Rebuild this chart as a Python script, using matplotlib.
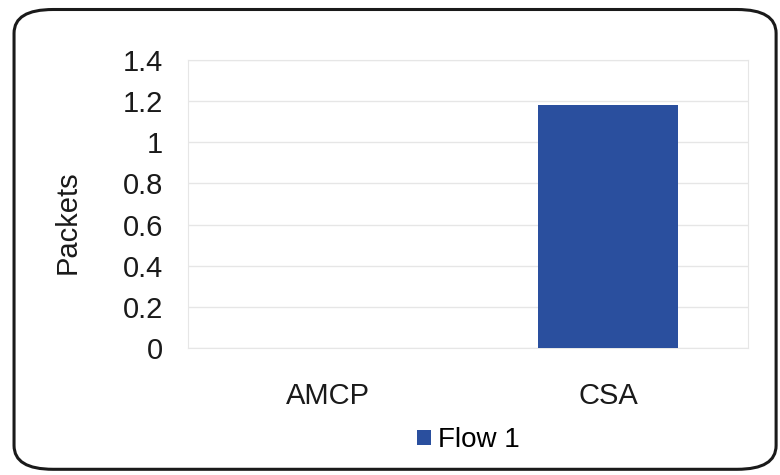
import matplotlib
matplotlib.use("Agg")
from matplotlib import pyplot as plt
from matplotlib.patches import FancyBboxPatch

categories = ["AMCP", "CSA"]
flow1 = [0, 1.18]
yticks = [0, 0.2, 0.4, 0.6, 0.8, 1, 1.2, 1.4]
ytick_labels = ["0", "0.2", "0.4", "0.6", "0.8", "1", "1.2", "1.4"]

plt.rcParams['font.family'] = ['Liberation Sans', 'DejaVu Sans']

fig = plt.figure(figsize=(7.8, 4.75), dpi=100)
ax = fig.add_axes([0.241, 0.267, 0.718, 0.607])

x = range(len(categories))
ax.bar(x, flow1, width=0.5, color='#2a4f9e', label="Flow 1", zorder=3)

ax.set_xlim(-0.5, 1.5)
ax.set_ylim(0, 1.4)
ax.set_yticks(yticks)
ax.set_yticklabels(ytick_labels)
ax.set_xticks(list(x))
ax.set_xticklabels(categories)
ax.tick_params(axis='both', length=0, labelsize=21, labelcolor='#1a1a1a')
ax.tick_params(axis='y', pad=18)
ax.tick_params(axis='x', pad=24)
ax.yaxis.grid(True, color='#e6e6e6', linewidth=1, zorder=0)
for s in ax.spines.values():
    s.set_color('#e6e6e6')
ax.set_ylabel("Packets", fontsize=21, color='#1a1a1a')
ax.yaxis.set_label_coords(-0.19, 0.4375)

fig.legend(loc='center', bbox_to_anchor=(0.6, 0.073), frameon=False, fontsize=20,
           handlelength=0.5, handleheight=0.5, handletextpad=0.25)

# rounded frame around the whole chart
frame = FancyBboxPatch((0.018, 0.012), 0.977, 0.968, boxstyle="round,pad=0,rounding_size=0.05",
                       transform=fig.transFigure, fill=False, edgecolor='#1a1a1a', linewidth=2.2)
fig.patches.append(frame)

plt.savefig("out.png", dpi=100)
